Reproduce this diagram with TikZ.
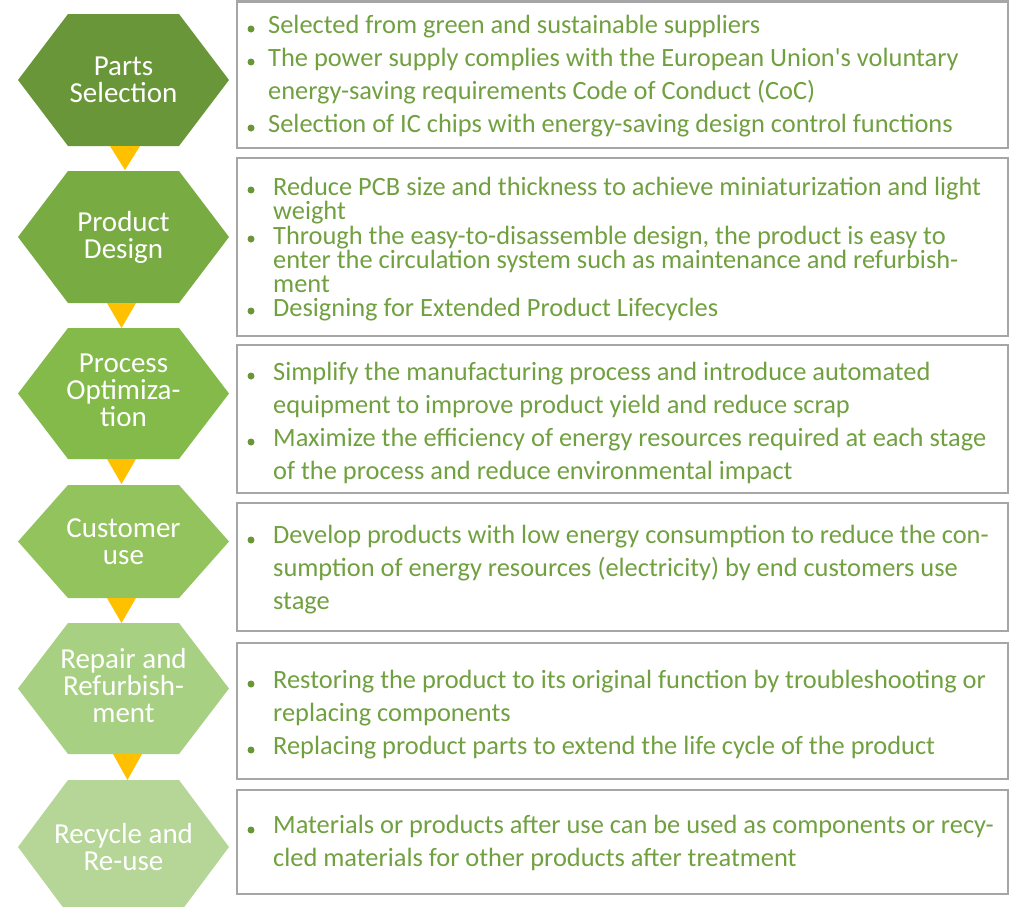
\documentclass[tikz,border=0pt]{standalone}
\usepackage{fontspec}
\setmainfont{Carlito}
\usepackage{tikz}

\definecolor{hexa}{RGB}{106,150,58}
\definecolor{hexb}{RGB}{120,172,66}
\definecolor{hexc}{RGB}{131,186,74}
\definecolor{hexd}{RGB}{146,195,92}
\definecolor{hexe}{RGB}{168,208,130}
\definecolor{hexf}{RGB}{181,214,150}
\definecolor{textgreen}{RGB}{112,160,64}
\definecolor{boxgray}{RGB}{166,166,166}
\definecolor{arrowyellow}{RGB}{255,192,0}

\begin{document}
\begin{tikzpicture}[x=1pt,y=-1pt,
  panel/.style={draw=boxgray,line width=2.5pt},
  hexlabel/.style={text=white,font=\fontsize{29}{27}\selectfont,align=center},
  item/.style={anchor=base west,text=textgreen,inner sep=0pt,align=left,
    font=\fontsize{26.4}{33}\selectfont},
  tight/.style={font=\fontsize{26.4}{24}\selectfont},
  dot/.style={fill=hexa},
  tri/.style={fill=arrowyellow}]
  \useasboundingbox (0,0) rectangle (1011,906);

  % stages
  \begin{scope}[xshift=123.5pt,yshift=-80pt]
    \fill[hexa] (-105.5,0) -- (-55.5,-66) -- (55.5,-66) -- (105.5,0) -- (55.5,66) -- (-55.5,66) -- cycle;
    \node[hexlabel] (parts) at (0,0) {Parts\\Selection};
  \end{scope}

  \begin{scope}[xshift=123.5pt,yshift=-237pt]
    \fill[hexb] (-105.5,0) -- (-55.5,-66) -- (55.5,-66) -- (105.5,0) -- (55.5,66) -- (-55.5,66) -- cycle;
    \node[hexlabel] (design) at (0,0) {Product\\Design};
  \end{scope}

  \begin{scope}[xshift=123.5pt,yshift=-393.5pt]
    \fill[hexc] (-105.5,0) -- (-55.5,-65.5) -- (55.5,-65.5) -- (105.5,0) -- (55.5,65.5) -- (-55.5,65.5) -- cycle;
    \node[hexlabel] (process) at (0,-3) {Process\\Optimiza-\\tion};
  \end{scope}

  \begin{scope}[xshift=123.5pt,yshift=-541.5pt]
    \fill[hexd] (-105.5,0) -- (-55.5,-56.5) -- (55.5,-56.5) -- (105.5,0) -- (55.5,56.5) -- (-55.5,56.5) -- cycle;
    \node[hexlabel] (customer) at (0,0) {Customer\\use};
  \end{scope}

  \begin{scope}[xshift=123.5pt,yshift=-688.5pt]
    \fill[hexe] (-105.5,0) -- (-55.5,-65.5) -- (55.5,-65.5) -- (105.5,0) -- (55.5,65.5) -- (-55.5,65.5) -- cycle;
    \node[hexlabel] (repair) at (0,-3) {Repair and\\Refurbish-\\ment};
  \end{scope}

  \begin{scope}[xshift=123.5pt,yshift=-847pt]
    \fill[hexf] (-105.5,0) -- (-55.5,-67) -- (55.5,-67) -- (105.5,0) -- (55.5,67) -- (-55.5,67) -- cycle;
    \node[hexlabel] (recycle) at (0,0) {Recycle and\\Re-use};
  \end{scope}

  % small arrows between stages
  \fill[tri] (110,146) -- (140,146) -- (125,170) -- cycle;
  \fill[tri] (107,303) -- (136,303) -- (121.5,328) -- cycle;
  \fill[tri] (107,459) -- (136,459) -- (121.5,484) -- cycle;
  \fill[tri] (107,598) -- (136,598) -- (121.5,623) -- cycle;
  \fill[tri] (113,754) -- (142,754) -- (127.5,780) -- cycle;

  % boxes
  \draw[panel] (237,1.5) rectangle (1008,148);
  \draw[panel] (237,158) rectangle (1008,336);
  \draw[panel] (237,345) rectangle (1008,493);
  \draw[panel] (237,503) rectangle (1008,631);
  \draw[panel] (237,643) rectangle (1008,779);
  \draw[panel] (237,790) rectangle (1008,894);

  % parts selection (node base = last line)
  \fill[dot] (251,29) circle (3.5pt);
  \node[item] (ps1) at (268,33) {Selected from green and sustainable suppliers};
  \fill[dot] (251,62) circle (3.5pt);
  \node[item] (ps2) at (268,99) {The power supply complies with the European Union\textquotesingle s voluntary\\energy-saving requirements Code of Conduct (CoC)};
  \fill[dot] (251,128) circle (3.5pt);
  \node[item] (ps3) at (268,132) {Selection of IC chips with energy-saving design control functions};

  % product design
  \fill[dot] (251,190) circle (3.5pt);
  \node[item,tight] (pd1) at (273,219) {Reduce PCB size and thickness to achieve miniaturization and light\\weight};
  \fill[dot] (251,239) circle (3.5pt);
  \node[item,tight] (pd2) at (273,292) {Through the easy-to-disassemble design, the product is easy to\\enter the circulation system such as maintenance and refurbish-\\ment};
  \fill[dot] (251,311) circle (3.5pt);
  \node[item,tight] (pd3) at (273,316) {Designing for Extended Product Lifecycles};

  % process optimization
  \fill[dot] (251,376) circle (3.5pt);
  \node[item] (po1) at (273,413) {Simplify the manufacturing process and introduce automated\\equipment to improve product yield and reduce scrap};
  \fill[dot] (251,442) circle (3.5pt);
  \node[item] (po2) at (273,479) {Maximize the efficiency of energy resources required at each stage\\of the process and reduce environmental impact};

  % customer use
  \fill[dot] (251,540) circle (3.5pt);
  \node[item] (cu1) at (273,609) {Develop products with low energy consumption to reduce the con-\\sumption of energy resources (electricity) by end customers use\\stage};

  % repair and refurbishment
  \fill[dot] (251,684) circle (3.5pt);
  \node[item] (rr1) at (273,721) {Restoring the product to its original function by troubleshooting or\\replacing components};
  \fill[dot] (251,750) circle (3.5pt);
  \node[item] (rr2) at (273,754) {Replacing product parts to extend the life cycle of the product};

  % recycle and re-use
  \fill[dot] (251,830) circle (3.5pt);
  \node[item] (rc1) at (273,866) {Materials or products after use can be used as components or recy-\\cled materials for other products after treatment};
\end{tikzpicture}
\end{document}
